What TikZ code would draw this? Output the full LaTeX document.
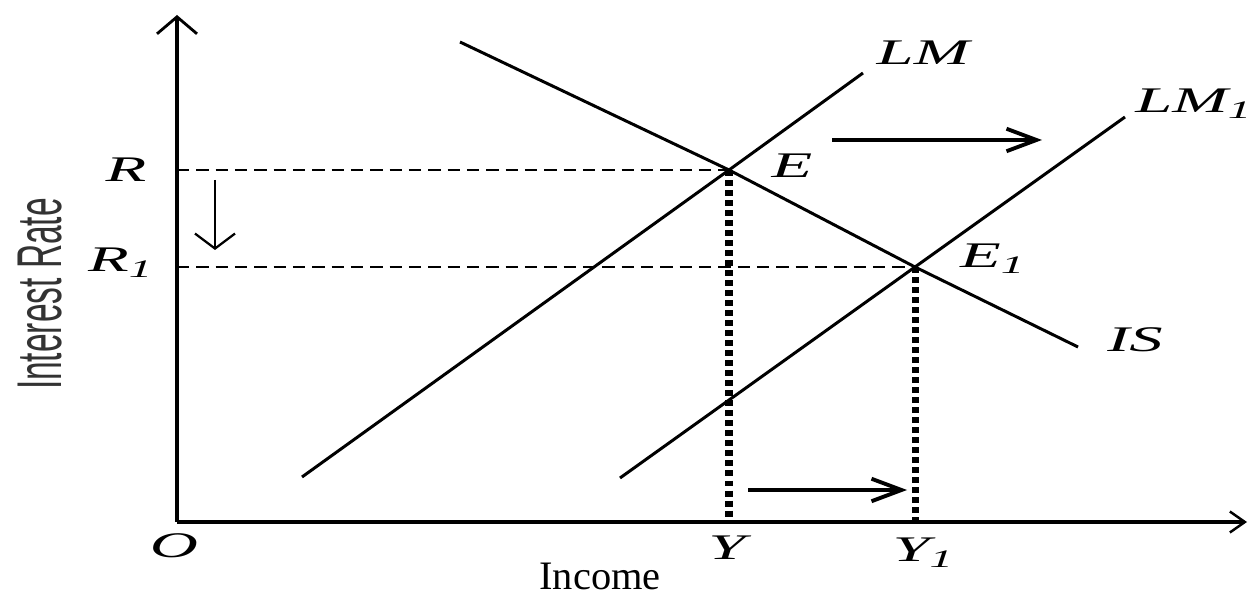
\documentclass[tikz,border=0pt]{standalone}
\usepackage{fontspec}
\setmainfont{Liberation Serif}
\newfontfamily\axisfont{Liberation Sans}
\usepackage{graphicx}
\usetikzlibrary{arrows.meta, positioning, calc}

\newcommand{\widelbl}[1]{\scalebox{1.85}[1]{#1}}

\begin{document}
\begin{tikzpicture}[
  axis/.style={line width=2.3pt},
  curve/.style={line width=1.7pt},
  guide/.style={line width=1.1pt, dash pattern=on 7pt off 4pt},
  drop/.style={line width=4pt, dash pattern=on 3.4pt off 2.3pt},
  move/.style={line width=2.8pt, -{Straight Barb[length=0.6cm, width=0.45cm, line width=2.2pt]}},
  fall/.style={line width=1.3pt, -{Straight Barb[length=0.3cm, width=0.8cm, line width=1.3pt]}},
  lbl/.style={font=\fontsize{20.5}{24}\selectfont\itshape, anchor=base, inner sep=0pt}]

  \useasboundingbox (0,0) rectangle (24.98,11.96);

  % --- key points ---
  \coordinate (O) at (3.54,1.52);
  \coordinate (ytop) at (3.54,11.66);
  \coordinate (xend) at (24.94,1.52);
  \coordinate (E) at (14.58,8.56);
  \coordinate (E1) at (18.30,6.62);
  \coordinate (r) at (O |- E);
  \coordinate (r1) at (O |- E1);
  \coordinate (y) at (E |- O);
  \coordinate (y1) at (E1 |- O);

  % --- curve ends ---
  \coordinate (lm-a) at (6.04,2.42);
  \coordinate (lm-b) at (17.26,10.50);
  \coordinate (lm1-a) at (12.40,2.40);
  \coordinate (lm1-b) at (22.50,9.62);
  \coordinate (is-a) at (9.20,11.12);
  \coordinate (is-b) at (21.56,5.02);

  % --- axes ---
  \draw[axis, -{Straight Barb[length=0.34cm, width=0.8cm, line width=1.6pt]}] (O) -- (ytop);
  \draw[axis, -{Straight Barb[length=0.3cm, width=0.42cm, line width=1.4pt]}] (O) -- (xend);

  % --- guide lines ---
  \draw[guide] (r) -- (E);
  \draw[guide] (r1) -- (E1);

  % --- IS and LM curves ---
  \draw[curve] (lm-a) -- (E) -- (lm-b);
  \draw[curve] (lm1-a) -- (E1) -- (lm1-b);
  \draw[curve] (is-a) -- (E) -- (E1) -- (is-b);

  % --- drops to the income axis ---
  \draw[drop] (E) -- (y);
  \draw[drop] (E1) -- (y1);

  % --- shift arrows ---
  \coordinate (dn-a) at (4.30,8.36);
  \coordinate (dn-b) at (4.30,6.96);
  \coordinate (up-a) at (16.64,9.16);
  \coordinate (up-b) at (20.84,9.16);
  \coordinate (lo-a) at (14.96,2.16);
  \coordinate (lo-b) at (18.14,2.16);
  \draw[fall] (dn-a) -- (dn-b);
  \draw[move] (up-a) -- (up-b);
  \draw[move] (lo-a) -- (lo-b);

  % --- labels ---
  \node[lbl] (lab-r) at (2.52,8.32) {\widelbl{R}};
  \node[lbl] (lab-r1) at (2.42,6.52) {\widelbl{R\textsubscript{1}}};
  \node[lbl] (lab-o) at (3.48,0.80) {\widelbl{O}};
  \node[lbl] (lab-y) at (14.54,0.76) {\widelbl{Y}};
  \node[lbl] (lab-y1) at (18.47,0.72) {\widelbl{Y\textsubscript{1}}};
  \node[lbl] (lab-e) at (15.84,8.40) {\widelbl{E}};
  \node[lbl] (lab-e1) at (19.86,6.60) {\widelbl{E\textsubscript{1}}};
  \node[lbl] (lab-lm) at (18.46,10.66) {\widelbl{LM}};
  \node[lbl] (lab-lm1) at (23.88,9.70) {\widelbl{LM\textsubscript{1}}};
  \node[lbl] (lab-is) at (22.70,4.92) {\widelbl{IS}};
  \node[font=\fontsize{23}{27}\selectfont, anchor=base, inner sep=0pt] (income) at (12.0,0.16) {Income};
  \node[rotate=90, text=black!80, font=\axisfont\fontsize{36}{40}\selectfont, inner sep=0pt] (rate) at (0.80,6.08) {\scalebox{0.53}[1]{Interest Rate}};
\end{tikzpicture}
\end{document}
